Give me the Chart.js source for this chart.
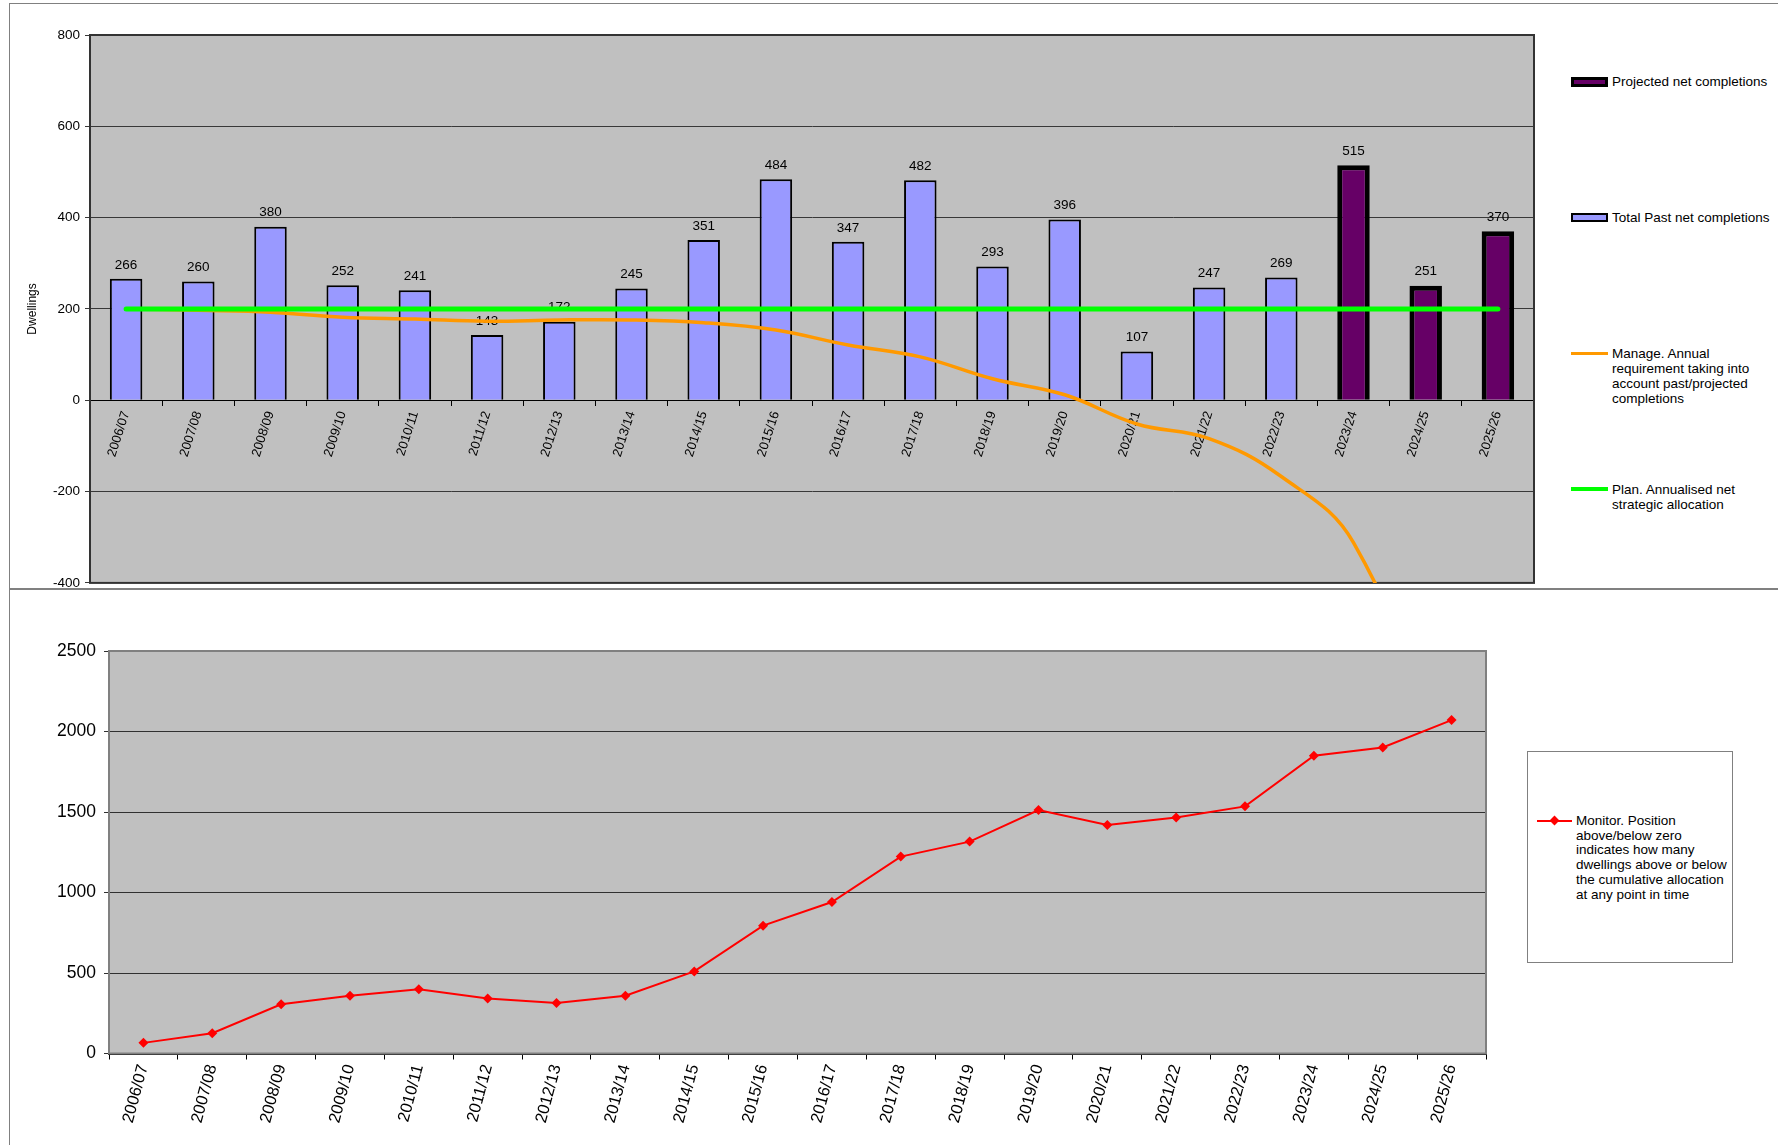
<!DOCTYPE html>
<html>
<head>
<meta charset="utf-8">
<script src="https://cdn.jsdelivr.net/npm/chart.js@4.4.1/dist/chart.umd.min.js"></script>
<style>
body { margin: 0; background: #fff; font-family: "Liberation Sans", Arial, sans-serif; }
#page { position: relative; width: 1778px; height: 1145px; overflow: hidden; }
.rule { position: absolute; background: #808080; }
canvas { position: absolute; }
.lg { position: absolute; font-size: 13.5px; line-height: 15px; color: #000; white-space: nowrap; }
.sw { position: absolute; box-sizing: border-box; }
#monitor-box { position: absolute; left: 1527px; top: 751px; width: 206px; height: 212px; box-sizing: border-box; border: 1.5px solid #808080; background: #fff; }
</style>
</head>
<body>
<div id="page">
    <div class="rule" style="left:9px;top:3px;width:1px;height:1142px"></div>
    <div class="rule" style="left:9px;top:3px;width:1769px;height:1px"></div>
    <div class="rule" style="left:9px;top:588px;width:1769px;height:2px"></div>

    <canvas id="annual" width="1545" height="592" style="left:10px;top:4px"></canvas>
    <canvas id="monitor" width="1500" height="553" style="left:10px;top:592px"></canvas>

    <!-- top legend -->
    <div class="sw" style="left:1571px;top:77px;width:37px;height:10px;background:#660066;border:3px solid #000"></div>
    <div class="lg" style="left:1612px;top:74px">Projected net completions</div>
    <div class="sw" style="left:1571px;top:213px;width:37px;height:9px;background:#9999ff;border:2px solid #000"></div>
    <div class="lg" style="left:1612px;top:210px">Total Past net completions</div>
    <div class="sw" style="left:1571px;top:352px;width:37px;height:3px;background:#ff9900"></div>
    <div class="lg" style="left:1612px;top:346px">Manage. Annual<br>requirement taking into<br>account past/projected<br>completions</div>
    <div class="sw" style="left:1571px;top:487px;width:37px;height:4px;background:#00ff00"></div>
    <div class="lg" style="left:1612px;top:482px">Plan. Annualised net<br>strategic allocation</div>

    <!-- bottom legend -->
    <div id="monitor-box"></div>
    <div class="sw" style="left:1537px;top:820px;width:35px;height:2px;background:#ff0000"></div>
    <div class="sw" style="left:1551px;top:817px;width:7px;height:7px;background:#ff0000;transform:rotate(45deg)"></div>
    <div class="lg" style="left:1576px;top:814px;line-height:14.7px">Monitor. Position<br>above/below zero<br>indicates how many<br>dwellings above or below<br>the cumulative allocation<br>at any point in time</div>
</div>

<script>
const years = ['2006/07', '2007/08', '2008/09', '2009/10', '2010/11', '2011/12', '2012/13',
    '2013/14', '2014/15', '2015/16', '2016/17', '2017/18', '2018/19', '2019/20', '2020/21',
    '2021/22', '2022/23', '2023/24', '2024/25', '2025/26'];

const pastCompletions = [266, 260, 380, 252, 241, 143, 172, 245, 351, 484, 347, 482, 293, 396, 107,
    247, 269, null, null, null];
const projectedCompletions = [null, null, null, null, null, null, null, null, null, null, null, null,
    null, null, null, null, null, 515, 251, 370];
const manageRequirement = [200, 197, 193, 182, 178, 173, 176, 176, 170, 154, 121, 95, 47, 12, -52,
    -84, -167, -312, -725, -1701];
const planAllocation = [200, 200, 200, 200, 200, 200, 200, 200, 200, 200, 200, 200, 200, 200, 200,
    200, 200, 200, 200, 200];
const monitorPosition = [66, 126, 306, 358, 399, 342, 314, 359, 510, 794, 941, 1223, 1316, 1512,
    1419, 1466, 1535, 1850, 1901, 2071];

const annualTicks = [-400, -200, 0, 200, 400, 600, 800];
const monitorTicks = [0, 500, 1000, 1500, 2000, 2500];

const FONT = '"Liberation Sans", Arial, sans-serif';

// grey plot area with a frame, as in the spreadsheet chart
const plotArea = {
    id: 'plotArea',
    beforeDraw(chart, args, opts) {
        const {ctx, chartArea: a} = chart;
        ctx.save();
        ctx.fillStyle = '#c0c0c0';
        ctx.fillRect(a.left, a.top, a.width, a.height);
        ctx.restore();
    },
    beforeDatasetsDraw(chart, args, opts) {
        const {ctx, chartArea: a} = chart;
        ctx.save();
        ctx.strokeStyle = opts.frame || '#333';
        ctx.lineWidth = 2;
        ctx.strokeRect(a.left, a.top, a.width, a.height);
        ctx.restore();
    }
};

const barValueLabels = {
    id: 'barValueLabels',
    afterDatasetDraw(chart, args) {
        const ds = chart.data.datasets[args.index];
        if (ds.type !== 'bar') return;
        const ctx = chart.ctx;
        ctx.save();
        ctx.font = '13.5px ' + FONT;
        ctx.fillStyle = '#000';
        ctx.textAlign = 'center';
        ctx.textBaseline = 'middle';
        args.meta.data.forEach((bar, i) => {
            if (ds.data[i] == null) return;
            ctx.fillText(String(ds.data[i]), bar.x, bar.y - 14);
        });
        ctx.restore();
    }
};

function renderAnnualChart() {
    new Chart(document.getElementById('annual'), {
        data: {
            labels: years,
            datasets: [{
                type: 'line',
                label: 'Plan. Annualised net strategic allocation',
                data: planAllocation,
                borderColor: '#00ff00',
                borderWidth: 5,
                pointRadius: 0,
                borderCapStyle: 'round',
                order: 0
            }, {
                type: 'line',
                label: 'Manage. Annual requirement taking into account past/projected completions',
                data: manageRequirement,
                borderColor: '#ff9900',
                borderWidth: 3.5,
                pointRadius: 0,
                tension: 0.4,
                order: 1
            }, {
                type: 'bar',
                label: 'Projected net completions',
                data: projectedCompletions,
                backgroundColor: '#660066',
                borderColor: '#000',
                borderWidth: 5,
                grouped: false,
                barPercentage: 0.45,
                categoryPercentage: 1,
                order: 2
            }, {
                type: 'bar',
                label: 'Total Past net completions',
                data: pastCompletions,
                backgroundColor: '#9999ff',
                borderColor: '#000',
                borderWidth: 2,
                grouped: false,
                barPercentage: 0.45,
                categoryPercentage: 1,
                order: 3
            }]
        },
        options: {
            responsive: false,
            animation: false,
            layout: {padding: {top: 31, right: 21, bottom: 6, left: 0}},
            plugins: {
                legend: {display: false},
                tooltip: {enabled: false},
                plotArea: {frame: '#333'}
            },
            scales: {
                x: {
                    position: {y: 0},
                    offset: true,
                    grid: {display: true, drawOnChartArea: false, offset: true, tickLength: 5, color: '#000'},
                    border: {color: '#000', width: 1},
                    ticks: {
                        autoSkip: false, minRotation: 72, maxRotation: 72, padding: 4,
                        color: '#000', font: {family: FONT, size: 13}
                    }
                },
                y: {
                    min: -400,
                    max: 800,
                    afterBuildTicks: scale => { scale.ticks = annualTicks.map(v => ({value: v})); },
                    afterFit: scale => { scale.width = 80; },
                    grid: {color: '#383838', tickLength: 5},
                    border: {color: '#000', width: 2},
                    ticks: {color: '#000', padding: 5, font: {family: FONT, size: 13.5}},
                    title: {
                        display: true, text: 'Dwellings', color: '#000',
                        font: {family: FONT, size: 12}, padding: {top: 15, bottom: 0}
                    }
                }
            }
        },
        plugins: [plotArea, barValueLabels]
    });
}

function renderMonitorChart() {
    new Chart(document.getElementById('monitor'), {
        type: 'line',
        data: {
            labels: years,
            datasets: [{
                label: 'Monitor. Position above/below zero indicates how many dwellings above or below the cumulative allocation at any point in time',
                data: monitorPosition,
                borderColor: '#ff0000',
                backgroundColor: '#ff0000',
                borderWidth: 2,
                pointStyle: 'rectRot',
                pointRadius: 5,
                pointBorderWidth: 0,
                tension: 0
            }]
        },
        options: {
            responsive: false,
            animation: false,
            layout: {padding: {top: 59, right: 24, bottom: 0, left: 0}},
            plugins: {
                legend: {display: false},
                tooltip: {enabled: false},
                plotArea: {frame: '#808080'}
            },
            scales: {
                x: {
                    offset: true,
                    afterFit: scale => { scale.height = 91.5; },
                    grid: {display: true, drawOnChartArea: false, offset: true, tickLength: 6, color: '#000'},
                    border: {color: '#000', width: 2},
                    ticks: {
                        autoSkip: false, minRotation: 75, maxRotation: 75, padding: 3,
                        color: '#000', font: {family: FONT, size: 16.5}
                    }
                },
                y: {
                    min: 0,
                    max: 2500,
                    afterBuildTicks: scale => { scale.ticks = monitorTicks.map(v => ({value: v})); },
                    afterFit: scale => { scale.width = 99; },
                    grid: {color: '#303030', tickLength: 5},
                    border: {color: '#000', width: 2},
                    ticks: {
                        color: '#000', padding: 8, font: {family: FONT, size: 17.5},
                        callback: value => String(value)
                    }
                }
            }
        },
        plugins: [plotArea]
    });
}

window.onload = function () {
    renderAnnualChart();
    renderMonitorChart();
};
</script>
</body>
</html>
